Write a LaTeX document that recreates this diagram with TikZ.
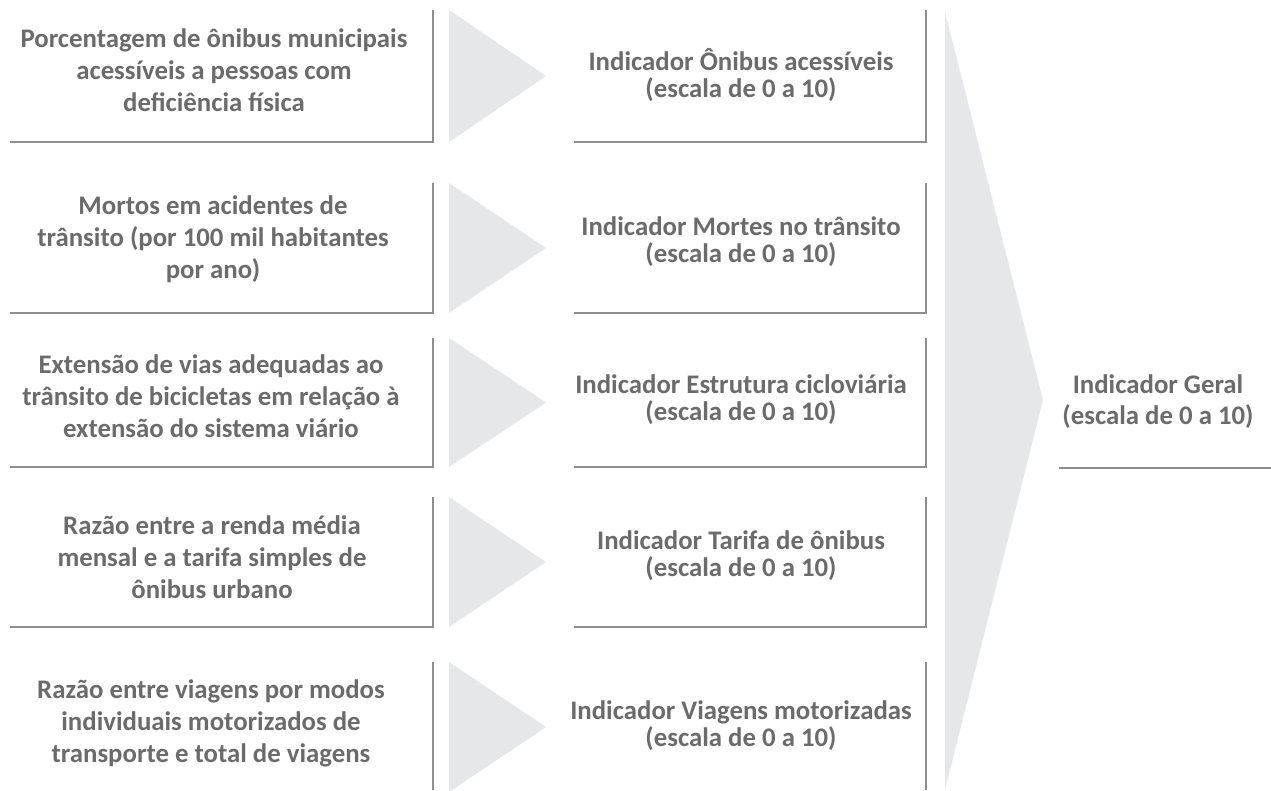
\documentclass[tikz,border=0pt]{standalone}
\usepackage{fontspec}
\setmainfont{Carlito}
\definecolor{txt}{HTML}{6B6B6B}
\definecolor{ln}{HTML}{8E8E8E}
\definecolor{tri}{HTML}{E6E7E8}
\begin{document}
\begin{tikzpicture}[x=1pt,y=-1pt,
  edge/.style={draw=ln, line width=2pt},
  arrowtri/.style={fill=tri, draw=none},
  ltext/.style={text=txt, align=center, inner sep=0pt, font=\fontsize{26.8}{32}\selectfont\bfseries},
  mtext/.style={text=txt, align=center, inner sep=0pt, font=\fontsize{26.8}{27}\selectfont\bfseries},
  gtext/.style={text=txt, align=center, inner sep=0pt, font=\fontsize{26.8}{31}\selectfont\bfseries}]
\useasboundingbox[fill=white] (0,0) rectangle (1271,790);

% left boxes (x 10 -> 433), middle boxes (x 574 -> 926)
\foreach \i/\t/\b in {1/10/142, 2/183/313, 3/338/467, 4/497/627, 5/662/790}{
  \coordinate (lne\i) at (433,\t);
  \coordinate (lse\i) at (433,\b);
  \coordinate (lsw\i) at (10,\b);
  \coordinate (mne\i) at (926,\t);
  \coordinate (mse\i) at (926,\b);
  \coordinate (msw\i) at (574,\b);
  \coordinate (ta\i) at (449,\t);
  \coordinate (tb\i) at (449,\b);
  \coordinate (tp\i) at (546,{(\t+\b)/2});
}
\coordinate (tb5) at (449,792);
\coordinate (tp5) at (546,727);

% small triangles
\foreach \i in {1,...,5}{
  \fill[arrowtri] (ta\i) -- (tp\i) -- (tb\i) -- cycle;
}
% big triangle
\coordinate (BA) at (945,12);
\coordinate (BP) at (1043,400);
\coordinate (BB) at (945,790);
\fill[arrowtri] (BA) -- (BP) -- (BB) -- cycle;

% box borders
\foreach \i in {1,...,4}{
  \draw[edge] (lne\i) -- (lse\i) -- (lsw\i);
  \draw[edge] (mne\i) -- (mse\i) -- (msw\i);
}
\draw[edge] (lne5) -- (lse5);
\draw[edge] (mne5) -- (mse5);

% left texts
\node[ltext] (lt1) at (214,70) {Porcentagem de ônibus municipais\\acessíveis a pessoas com\\deficiência física};
\node[ltext] (lt2) at (213,239) {Mortos em acidentes de\\trânsito (por 100 mil habitantes\\por ano)};
\node[ltext] (lt3) at (211,396) {Extensão de vias adequadas ao\\trânsito de bicicletas em relação à\\extensão do sistema viário};
\node[ltext] (lt4) at (212,557) {Razão entre a renda média\\mensal e a tarifa simples de\\ônibus urbano};
\node[ltext] (lt5) at (211,723) {Razão entre viagens por modos\\individuais motorizados de\\transporte e total de viagens};

% middle texts
\node[mtext] (mt1) at (741,75) {Indicador Ônibus acessíveis\\(escala de 0 a 10)};
\node[mtext] (mt2) at (741,242) {Indicador Mortes no trânsito\\(escala de 0 a 10)};
\node[mtext] (mt3) at (741,400) {Indicador Estrutura cicloviária\\(escala de 0 a 10)};
\node[mtext] (mt4) at (741,556) {Indicador Tarifa de ônibus\\(escala de 0 a 10)};
\node[mtext] (mt5) at (741,726) {Indicador Viagens motorizadas\\(escala de 0 a 10)};

% general indicator
\node[gtext] (g) at (1158,402) {Indicador Geral\\(escala de 0 a 10)};
\coordinate (u1) at (1059,468);
\coordinate (u2) at (1271,468);
\draw[edge] (u1) -- (u2);
\end{tikzpicture}
\end{document}
